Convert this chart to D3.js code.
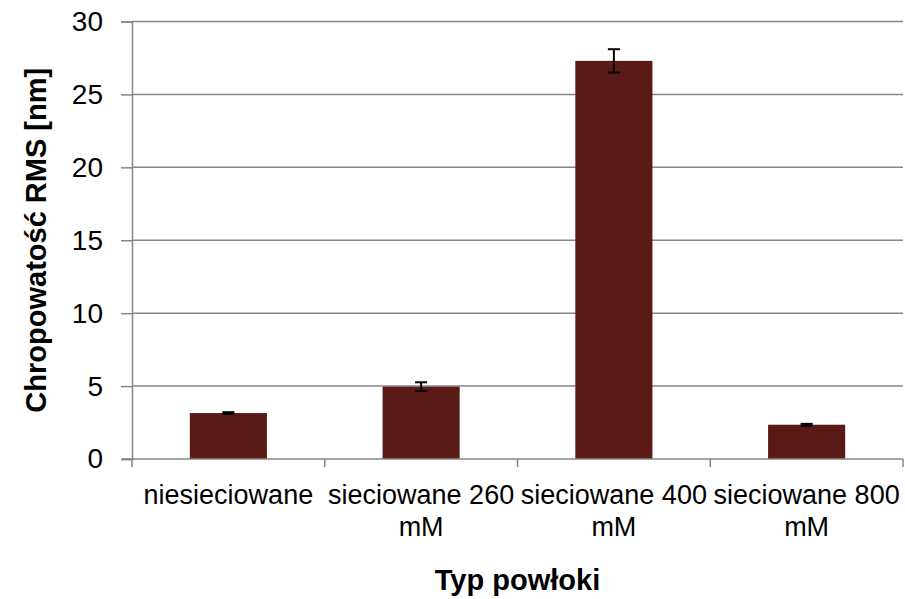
<!DOCTYPE html>
<html>
<head>
<meta charset="utf-8">
<script src="https://cdn.jsdelivr.net/npm/d3@7"></script>
<style>
  body { margin: 0; background: #fff; }
  text { font-family: "Liberation Sans", Arial, sans-serif; fill: #000; }
</style>
</head>
<body>
<div id="chart"></div>
<script>
// data
const categories = [['niesieciowane'], ['sieciowane 260', 'mM'], ['sieciowane 400', 'mM'], ['sieciowane 800', 'mM']];
const values = [3.15, 4.96, 27.3, 2.35];
const errors = [0.06, 0.3, 0.8, 0.06];
const yTicks = [0, 5, 10, 15, 20, 25, 30];

const width = 905, height = 599;
const margin = { top: 21.5, right: 2, bottom: 140, left: 132 };

const svg = d3.select('#chart').append('svg')
    .attr('width', width)
    .attr('height', height);

const x = d3.scaleBand()
    .domain(d3.range(categories.length))
    .range([margin.left, width - margin.right])
    .paddingInner(0.6)
    .paddingOuter(0.3);

const y = d3.scaleLinear()
    .domain([0, 30])
    .range([height - margin.bottom, margin.top]);

const gridColor = '#868686';

// gridlines
svg.append('g')
    .selectAll('line')
    .data(yTicks.slice(1))
    .join('line')
    .attr('x1', margin.left)
    .attr('x2', width - margin.right)
    .attr('y1', d => y(d))
    .attr('y2', d => y(d))
    .attr('stroke', gridColor)
    .attr('stroke-width', 1.5);

// bars
svg.append('g')
    .selectAll('rect')
    .data(values)
    .join('rect')
    .attr('x', (d, i) => x(i))
    .attr('width', x.bandwidth())
    .attr('y', d => y(d))
    .attr('height', d => y(0) - y(d))
    .attr('fill', '#5a1a15');

// error bars
const err = svg.append('g')
    .attr('stroke', '#000')
    .attr('stroke-width', 2);
values.forEach((v, i) => {
    const cx = x(i) + x.bandwidth() / 2;
    const top = y(v + errors[i]), bot = y(v - errors[i]);
    err.append('line').attr('x1', cx).attr('x2', cx).attr('y1', top).attr('y2', bot);
    err.append('line').attr('x1', cx - 6).attr('x2', cx + 6).attr('y1', top).attr('y2', top);
    err.append('line').attr('x1', cx - 6).attr('x2', cx + 6).attr('y1', bot).attr('y2', bot);
});

// y axis
const yAxis = svg.append('g')
    .attr('transform', `translate(${margin.left},0)`)
    .call(d3.axisLeft(y).tickValues(yTicks).tickSize(11).tickPadding(18));
yAxis.select('.domain').attr('stroke', gridColor).attr('stroke-width', 1.5);
yAxis.selectAll('.tick line').attr('stroke', gridColor).attr('stroke-width', 1.5);
yAxis.selectAll('.tick text')
    .attr('font-size', 28)
    .attr('font-family', '"Liberation Sans", Arial, sans-serif')
    .attr('fill', '#000');

// x axis baseline and ticks at category boundaries
const xBounds = d3.range(categories.length + 1).map(i => margin.left + i * (width - margin.right - margin.left) / categories.length);
svg.append('line')
    .attr('x1', margin.left - 10).attr('x2', width - margin.right)
    .attr('y1', y(0)).attr('y2', y(0))
    .attr('stroke', gridColor).attr('stroke-width', 1.5);
svg.append('g')
    .selectAll('line')
    .data(xBounds)
    .join('line')
    .attr('x1', d => d).attr('x2', d => d)
    .attr('y1', y(0)).attr('y2', y(0) + 8)
    .attr('stroke', gridColor).attr('stroke-width', 1.5);

// category labels
const labels = svg.append('g')
    .selectAll('text')
    .data(categories)
    .join('text')
    .attr('text-anchor', 'middle')
    .attr('font-size', 27)
    .attr('x', (d, i) => x(i) + x.bandwidth() / 2)
    .attr('y', y(0) + 45);
labels.selectAll('tspan')
    .data(d => d)
    .join('tspan')
    .attr('x', function () { return this.parentNode.getAttribute('x'); })
    .attr('dy', (d, i) => i === 0 ? 0 : 32)
    .text(d => d);

// axis titles
svg.append('text')
    .attr('x', (margin.left + width - margin.right) / 2)
    .attr('y', 590)
    .attr('text-anchor', 'middle')
    .attr('font-size', 29)
    .attr('font-weight', 'bold')
    .text('Typ powłoki');

svg.append('text')
    .attr('transform', `translate(46,${(margin.top + y(0)) / 2}) rotate(-90)`)
    .attr('text-anchor', 'middle')
    .attr('font-size', 29)
    .attr('font-weight', 'bold')
    .text('Chropowatość RMS [nm]');
</script>
</body>
</html>
